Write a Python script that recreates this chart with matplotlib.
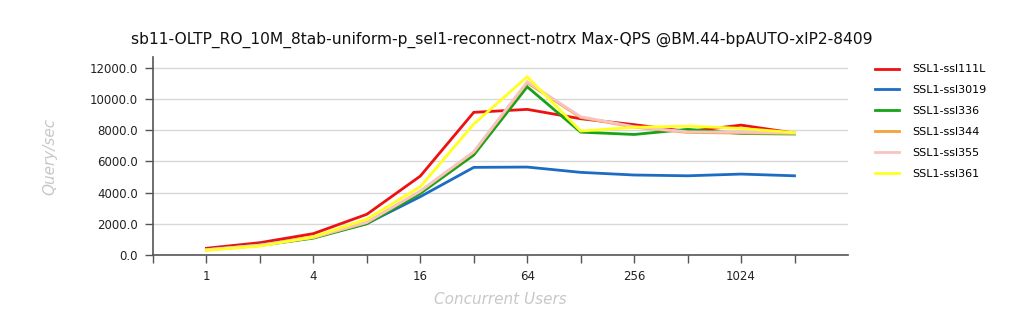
import matplotlib
matplotlib.use("Agg")
import matplotlib.pyplot as plt

# ── 数据 ──
users = ["1", "2", "4", "8", "16", "32", "64", "128", "256", "512", "1024", "2048"]
tick_labels = ["1", "", "4", "", "16", "", "64", "", "256", "", "1024", ""]

ssl111L = [430, 790, 1370, 2610, 5060, 9150, 9340, 8740, 8360, 7920, 8330, 7820]
ssl3019 = [350, 650, 1130, 2020, 3740, 5620, 5640, 5300, 5130, 5080, 5190, 5080]
ssl336 = [330, 610, 1080, 2000, 3950, 6410, 10790, 7880, 7730, 8060, 7790, 7760]
ssl344 = [340, 630, 1120, 2080, 4080, 6600, 11050, 8820, 8200, 7860, 7820, 7800]
ssl355 = [340, 630, 1130, 2100, 4100, 6620, 11110, 8870, 8230, 7900, 7880, 7820]
ssl361 = [300, 570, 1160, 2300, 4380, 8400, 11430, 7950, 8190, 8270, 8120, 7850]

series = [
    ("SSL1-ssl111L", ssl111L, "#ee1111"),
    ("SSL1-ssl3019", ssl3019, "#1c6cc4"),
    ("SSL1-ssl336", ssl336, "#17a317"),
    ("SSL1-ssl344", ssl344, "#f4a23a"),
    ("SSL1-ssl355", ssl355, "#f7c4c4"),
    ("SSL1-ssl361", ssl361, "#ffff22"),
]

# ── 绘图 ──
plt.rcParams["font.family"] = ["DejaVu Sans"]
fig = plt.figure(figsize=(10.24, 3.3), dpi=100)
ax = fig.add_axes([0.1494, 0.2273, 0.6787, 0.6])

xs = list(range(1, len(users) + 1))
for name, vals, col in series:
    ax.plot(xs, vals, color=col, linewidth=2.0, label=name, solid_joinstyle="miter")

ax.set_xlim(0, 13)
ax.set_ylim(0, 12700)
ax.set_yticks(range(0, 12001, 2000))
ax.set_yticklabels([f"{v:.1f}" for v in range(0, 12001, 2000)], fontsize=8.5, color="#222222")
ax.set_xticks(range(0, 13))
ax.set_xticklabels([""] + tick_labels, fontsize=8.5, color="#222222")
ax.tick_params(axis="both", direction="out", length=6, color="#555555", width=1)
ax.tick_params(axis="y", pad=5)
ax.tick_params(axis="x", pad=5)

ax.yaxis.grid(True, color="#d8d8d8", linewidth=1)
ax.set_axisbelow(True)
for s in ["top", "right"]:
    ax.spines[s].set_visible(False)
for s in ["left", "bottom"]:
    ax.spines[s].set_color("#555555")
    ax.spines[s].set_linewidth(1.2)

ax.set_ylabel("Query/sec", fontsize=11, color="#c8c8c8", style="italic", labelpad=23)
ax.set_xlabel("Concurrent Users", fontsize=11, color="#c8c8c8", style="italic", labelpad=6)
fig.text(0.490, 0.880, "sb11-OLTP_RO_10M_8tab-uniform-p_sel1-reconnect-notrx Max-QPS @BM.44-bpAUTO-xIP2-8409",
         ha="center", va="center", fontsize=11.2, color="#111111")

fig.legend(loc="upper left", bbox_to_anchor=(0.845, 0.835), frameon=False, fontsize=8,
           handlelength=2.1, labelspacing=0.98, handletextpad=1.2)

fig.savefig("out.png", dpi=100, facecolor="white")
